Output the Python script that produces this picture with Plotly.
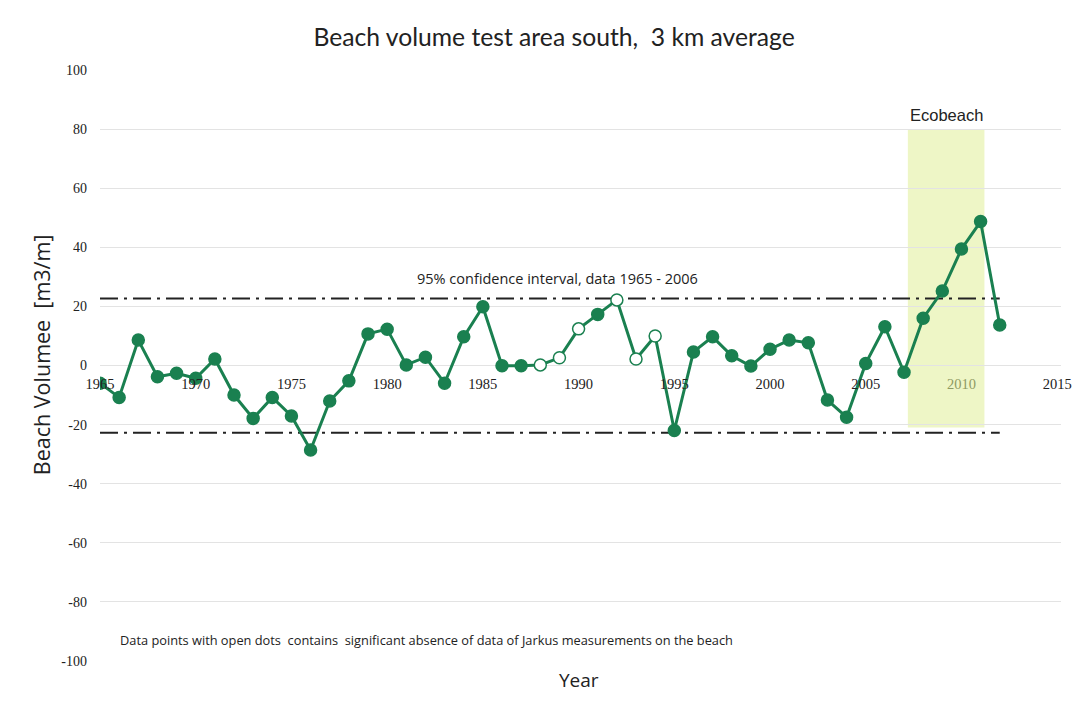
import plotly.graph_objects as go

years = list(range(1965, 2013))
volume = [-6.0, -10.8, 8.6, -3.8, -2.6, -4.3, 2.2, -10.0, -17.9, -10.8,
          -17.1, -28.6, -12.0, -5.2, 10.7, 12.3, 0.2, 2.8, -6.0, 9.7,
          19.9, -0.1, -0.1, 0.2, 2.6, 12.4, 17.3, 22.2, 2.2, 10.0,
          -22.0, 4.6, 9.7, 3.3, -0.2, 5.5, 8.6, 7.7, -11.7, -17.5,
          0.7, 13.1, -2.3, 16.0, 25.2, 39.4, 48.7, 13.7]
open_years = [1988, 1989, 1990, 1992, 1993, 1994]
ci_upper = 22.7
ci_lower = -22.8
ci_years = [1965, 2012]
eco_start, eco_end = 2007.2, 2011.2
eco_low, eco_high = -21, 80

x_ticks = [1965, 1970, 1975, 1980, 1985, 1990, 1995, 2000, 2005, 2010, 2015]
x_ticktext = ["1965", "1970", "1975", "1980", "1985", "1990", "1995", "2000", "2005",
              '<span style="color:#8f9a62">2010</span>', "2015"]
y_ticks = [100, 80, 60, 40, 20, 0, -20, -40, -60, -80, -100]
y_ticktext = ["100", "80", "60", "40", "20", "0", "-20", "-40", "-60", "-80", "-100"]

green = "#1a8050"

fig = go.Figure()

fig.add_shape(type="rect", xref="x", yref="y", x0=eco_start, x1=eco_end,
              y0=eco_low, y1=eco_high, fillcolor="#eef6c6", line_width=0, layer="below")

fig.add_trace(go.Scatter(x=ci_years, y=[ci_upper, ci_upper], mode="lines",
                         line=dict(color="#222222", width=2, dash="18px,6px,3px,6px"),
                         hoverinfo="skip", showlegend=False))
fig.add_trace(go.Scatter(x=ci_years, y=[ci_lower, ci_lower], mode="lines",
                         line=dict(color="#222222", width=2, dash="18px,6px,3px,6px"),
                         hoverinfo="skip", showlegend=False))

fill_colors = ["white" if y in open_years else green for y in years]
fig.add_trace(go.Scatter(x=years, y=volume, mode="lines+markers",
                         line=dict(color=green, width=3),
                         marker=dict(size=12, color=fill_colors,
                                     line=dict(color=green, width=1.5)),
                         showlegend=False))

fig.update_layout(
    width=1075, height=700,
    paper_bgcolor="white", plot_bgcolor="white",
    margin=dict(l=92, r=22, t=62, b=47),
    title=dict(text="Beach volume test area south,  3 km average",
               x=0.508, xanchor="center", y=0.9586, yanchor="middle",
               font=dict(family="Lato", size=24.7, color="#222222")),
    xaxis=dict(range=[1965, 2015.2], tickvals=x_ticks, ticktext=x_ticktext,
               anchor="free", position=0.5, showgrid=False, showline=False,
               zeroline=False, ticks="", ticklabelstandoff=8,
               tickfont=dict(family="Liberation Serif", size=14.5, color="#222222")),
    yaxis=dict(range=[-100, 100], tickvals=y_ticks, ticktext=y_ticktext, showgrid=True,
               gridcolor="#e3e3e3", gridwidth=1, zeroline=False, ticks="",
               ticklabelstandoff=12,
               tickfont=dict(family="Liberation Serif", size=14, color="#222222")),
    annotations=[
        dict(text="Beach Volumee  [m3/m]", xref="paper", yref="paper",
             x=-0.06, y=0.518, xanchor="center", yanchor="middle", textangle=-90,
             showarrow=False, font=dict(family="Open Sans", size=21.5, color="#222222")),
        dict(text="Year", xref="paper", yref="paper", x=0.498, y=-0.032,
             xanchor="center", yanchor="middle", showarrow=False,
             font=dict(family="Open Sans", size=19, color="#222222")),
        dict(text="95% confidence interval, data 1965 - 2006", xref="x", yref="y",
             x=1988.9, y=29.6, xanchor="center", yanchor="middle", showarrow=False,
             font=dict(family="Open Sans", size=14.5, color="#222222")),
        dict(text="Ecobeach", xref="x", yref="y", x=2009.2, y=84.8,
             xanchor="center", yanchor="middle", showarrow=False,
             font=dict(family="Liberation Sans", size=16.5, color="#222222")),
        dict(text="Data points with open dots  contains  significant absence of data of Jarkus measurements on the beach",
             xref="paper", yref="y", x=0.019, y=-93, xanchor="left", yanchor="middle",
             showarrow=False, font=dict(family="Open Sans", size=12.8, color="#222222")),
    ],
)

fig.write_html("out.html")
